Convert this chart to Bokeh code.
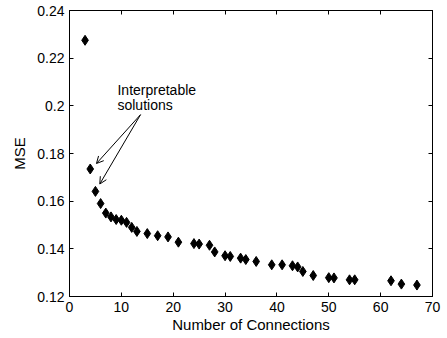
from bokeh.plotting import figure
from bokeh.models import (ColumnDataSource, LinearAxis, FixedTicker, Range1d,
                          Arrow, OpenHead, Label)
from bokeh.embed import file_html
from bokeh.resources import INLINE

connections = [3, 4, 5, 6, 7, 8, 9, 10, 11, 12, 13, 15, 17, 19, 21, 24, 25, 27, 28,
               30, 31, 33, 34, 36, 39, 41, 43, 44, 45, 47, 50, 51, 54, 55, 62, 64, 67]
mse = [0.2275, 0.1735, 0.1641, 0.1590, 0.1550, 0.1534, 0.1523, 0.1520, 0.1511,
       0.1490, 0.1473, 0.1464, 0.1455, 0.1450, 0.1428, 0.1422, 0.1420, 0.1415,
       0.1387, 0.1371, 0.1368, 0.1361, 0.1355, 0.1347, 0.1333, 0.1333, 0.1329,
       0.1324, 0.1305, 0.1288, 0.1279, 0.1278, 0.1270, 0.1270, 0.1266, 0.1252,
       0.1248]
x_ticks = [0, 10, 20, 30, 40, 50, 60, 70]
y_ticks = [0.12, 0.14, 0.16, 0.18, 0.20, 0.22, 0.24]
y_tick_labels = ["0.12", "0.14", "0.16", "0.18", "0.2", "0.22", "0.24"]

FONT = "Liberation Sans"

p = figure(width=447, height=338, output_backend="svg", toolbar_location=None,
           x_range=Range1d(0, 70), y_range=Range1d(0.12, 0.24),
           min_border_left=69, min_border_right=15, min_border_top=10,
           min_border_bottom=42)
p.grid.visible = False
p.outline_line_color = "black"
p.outline_line_width = 1
p.background_fill_color = "white"
p.border_fill_color = "white"

src = ColumnDataSource(dict(x=connections, y=mse))
p.scatter("x", "y", source=src, marker="diamond", size=10,
          fill_color="black", line_color="black")

# extra axes for the box ticks (no labels)
p.add_layout(LinearAxis(), "right")
p.add_layout(LinearAxis(), "above")

for ax in p.xaxis:
    ax.ticker = FixedTicker(ticks=x_ticks)
for ax in p.yaxis:
    ax.ticker = FixedTicker(ticks=y_ticks)

for ax in p.xaxis + p.yaxis:
    ax.axis_line_color = "black"
    ax.major_tick_in = 4
    ax.major_tick_out = 0
    ax.minor_tick_line_color = None
    ax.major_tick_line_color = "black"
    ax.major_label_text_font = FONT
    ax.major_label_text_font_size = "14px"
    ax.major_label_text_color = "black"
    ax.major_label_standoff = 5
    ax.axis_label_text_font = FONT
    ax.axis_label_text_font_size = "15px"
    ax.axis_label_text_font_style = "normal"
    ax.axis_label_text_color = "black"

p.left[0].major_label_overrides = {t: l for t, l in zip(y_ticks, y_tick_labels)}
p.right[0].major_label_overrides = {t: "" for t in y_ticks}
p.above[0].major_label_overrides = {t: "" for t in x_ticks}
p.right[0].major_label_standoff = 0
p.above[0].major_label_standoff = 0

p.below[0].axis_label = "Number of Connections"
p.below[0].axis_label_standoff = 1
p.left[0].axis_label = "MSE"
p.left[0].axis_label_standoff = 6

# annotation
ann_start = (13.7, 0.1963)
ann_tips = [(5.2, 0.1758), (5.84, 0.1672)]
for tx, ty in ann_tips:
    p.add_layout(Arrow(end=OpenHead(size=7, line_width=1, line_color="black"),
                       x_start=ann_start[0], y_start=ann_start[1],
                       x_end=tx, y_end=ty, line_width=1, line_color="black"))

p.add_layout(Label(x=9.25, y=0.2068, text="Interpretable", text_font=FONT,
                   text_font_size="14px", text_baseline="middle",
                   text_color="black"))
p.add_layout(Label(x=9.25, y=0.2003, text="solutions", text_font=FONT,
                   text_font_size="14px", text_baseline="middle",
                   text_color="black"))

open("out.html", "w").write(file_html(p, INLINE))
